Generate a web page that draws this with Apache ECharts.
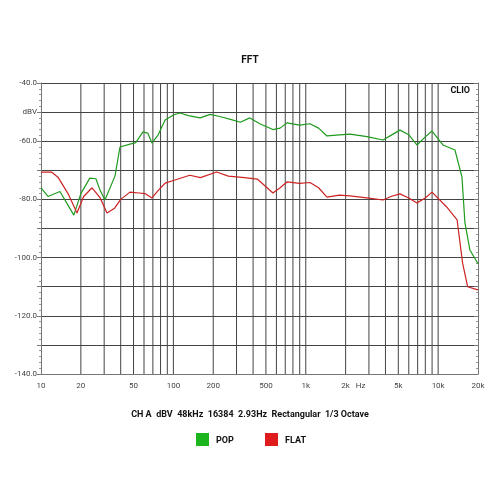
<!DOCTYPE html>
<html>
<head>
<meta charset="utf-8">
<script src="https://cdn.jsdelivr.net/npm/echarts@6/dist/echarts.min.js"></script>
<style>html,body{margin:0;padding:0;background:#fff}#main{width:500px;height:500px}</style>
</head>
<body>
<div id="main"></div>
<script>
// frequency (Hz), level (dBV)
var popFreq = [10, 11.3, 13.9, 17.7, 20, 23.4, 26, 27.9, 30.4, 36.2, 39.5, 47, 52, 58.9, 64, 68.9, 76.6, 86.6, 100, 112, 130, 159, 190, 224, 270, 320, 378, 450, 565, 640, 721, 900, 1076, 1250, 1445, 1800, 2157, 2900, 3830, 4400, 5140, 6000, 6910, 8000, 8980, 10870, 13390, 15130, 15930, 17380, 19630, 20000];
var popDb = [-76, -79, -77.3, -85.4, -78, -72.7, -72.9, -76.8, -80.2, -72, -62, -61, -60.5, -56.8, -57.2, -60.6, -57.9, -52.7, -51, -50.3, -51.2, -52, -50.8, -51.5, -52.5, -53.5, -52, -54, -56, -55.5, -53.7, -54.5, -54, -55.5, -58.2, -57.8, -57.6, -58.4, -59.6, -58, -56.2, -57.8, -61.3, -58.5, -56.5, -61.3, -63, -72.3, -88, -97.4, -101.5, -102];
var flatFreq = [10, 12, 13.5, 16, 18.7, 21, 24.3, 28, 31.5, 36, 40, 47, 55, 61, 68.9, 76.6, 86.6, 100, 133, 160, 212, 260, 345, 430, 565, 640, 721, 900, 1076, 1250, 1445, 1800, 2157, 2900, 3830, 4400, 5140, 6000, 6910, 8000, 8980, 11600, 13900, 15300, 16700, 19630, 20000];
var flatDb = [-70.6, -70.6, -72.5, -78, -84.7, -79, -76, -79.5, -84.7, -83, -80, -77.5, -77.8, -78, -79.5, -77, -74.4, -73.5, -71.7, -72.5, -70.6, -72, -72.5, -73, -77.8, -76, -74, -74.5, -74.2, -76, -79.2, -78.5, -78.8, -79.5, -80.2, -79, -78.1, -79.5, -81.2, -79.5, -77.5, -82.6, -87, -101.9, -110, -111, -111];
var gridFreqs = [20, 30, 40, 50, 60, 70, 80, 90, 100, 200, 300, 400, 500, 600, 700, 800, 900, 1000, 2000, 3000, 4000, 5000, 6000, 7000, 8000, 9000, 10000];
var tickFreqs = [10, 20, 50, 100, 200, 500, 1000, 2000, 2600, 5000, 10000, 20000];
var tickLabels = ['10', '20', '50', '100', '200', '500', '1k', '2k', 'Hz', '5k', '10k', '20k'];

function pairs(xs, ys) {
    return xs.map(function (x, i) { return [x, ys[i]]; });
}

var myChart = echarts.init(document.getElementById('main'));
var font = 'Roboto';
var option = {
    animation: false,
    title: {
        text: 'FFT', left: 'center', top: 50,
        textStyle: { fontSize: 10, fontWeight: 'bold', color: '#111', fontFamily: font }
    },
    grid: { left: 41, right: 22, top: 83, bottom: 126 },
    graphic: [
        { type: 'text', right: 30, top: 86, style: { text: 'CLIO', font: 'bold 9px Roboto', fill: '#111' } },
        { type: 'text', left: 'center', top: 410, style: { text: 'CH A  dBV  48kHz  16384  2.93Hz  Rectangular  1/3 Octave', font: 'bold 9px Roboto', fill: '#111' } },
        { type: 'rect', left: 196, top: 433, shape: { width: 13, height: 13 }, style: { fill: '#1db51d' } },
        { type: 'text', left: 216, top: 436, style: { text: 'POP', font: 'bold 9px Roboto', fill: '#111' } },
        { type: 'rect', left: 265, top: 433, shape: { width: 13, height: 13 }, style: { fill: '#e01b1b' } },
        { type: 'text', left: 285, top: 436, style: { text: 'FLAT', font: 'bold 9px Roboto', fill: '#111' } }
    ],
    xAxis: {
        type: 'log', logBase: 10, min: 10, max: 20000,
        axisLine: { lineStyle: { color: '#777' } },
        axisTick: { show: false },
        axisLabel: { show: false },
        splitLine: { show: false }
    },
    yAxis: [{
        type: 'value', min: -140, max: -40, interval: 10,
        axisLine: { show: true, lineStyle: { color: '#777' } },
        axisTick: { show: true, length: 4, lineStyle: { color: '#777' } },
        minorTick: { show: true, splitNumber: 5, length: 2, lineStyle: { color: '#999' } },
        axisLabel: {
            fontSize: 8, color: '#444', fontFamily: font, margin: 4,
            formatter: function (v) {
                if (v === -50) return 'dBV';
                return v % 20 === 0 ? v.toFixed(1) : '';
            }
        },
        splitLine: { show: true, lineStyle: { color: '#444', width: 1 } }
    }, {
        type: 'value', min: -140, max: -40, interval: 10, position: 'right',
        axisLine: { show: true, lineStyle: { color: '#777' } },
        axisTick: { show: true, inside: true, length: 4, lineStyle: { color: '#777' } },
        minorTick: { show: true, splitNumber: 5, length: 2, lineStyle: { color: '#999' } },
        axisLabel: { show: false },
        splitLine: { show: false }
    }],
    series: [{
        type: 'custom', silent: true, z: 1,
        data: gridFreqs.map(function (f) { return [f]; }),
        renderItem: function (params, api) {
            var a = api.coord([api.value(0), -140]);
            var b = api.coord([api.value(0), -40]);
            return { type: 'line', shape: { x1: a[0], y1: a[1], x2: b[0], y2: b[1] }, style: { stroke: '#444', lineWidth: 1 } };
        }
    }, {
        type: 'custom', silent: true, clip: false,
        data: tickFreqs.map(function (f, i) { return [f, i]; }),
        renderItem: function (params, api) {
            var p = api.coord([api.value(0), -140]);
            return { type: 'text', x: p[0], y: p[1] + 8, style: { text: tickLabels[api.value(1)], textAlign: 'center', font: '8px Roboto', fill: '#444' } };
        }
    }, {
        name: 'POP', type: 'line', showSymbol: false, z: 3,
        data: pairs(popFreq, popDb),
        lineStyle: { color: '#1f9a1f', width: 1.2 }
    }, {
        name: 'FLAT', type: 'line', showSymbol: false, z: 3,
        data: pairs(flatFreq, flatDb),
        lineStyle: { color: '#cc2222', width: 1.2 }
    }]
};
myChart.setOption(option);
</script>
</body>
</html>
